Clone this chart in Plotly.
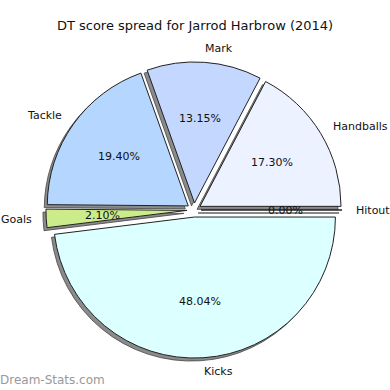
import numpy as np
import plotly.graph_objects as go

labels = ["Handballs", "Mark", "Tackle", "Goals", "Kicks", "Hitout"]
values = [17.30, 13.15, 19.40, 2.10, 48.04, 0.00]
colors = ["#ecf2ff", "#c4d8ff", "#b4d6ff", "#ccec8c", "#dcffff", "#ffffff"]
pulls = [0.05, 0.05, 0.05, 0.05, 0.05, 0.05]

# matplotlib draws counterclockwise from 3 o'clock; plotly equivalent: reversed order, clockwise
L, V, C, P = labels[::-1], values[::-1], colors[::-1], pulls[::-1]

W = H = 390
cx, cy, R = 194, 210, 141
half = R * 1.05
dx = [(cx - half) / W, (cx + half) / W]
dy = [1 - (cy + half) / H, 1 - (cy - half) / H]
sh = 3
sdx = [(cx - half - sh) / W, (cx + half - sh) / W]
sdy = [1 - (cy + half + sh) / H, 1 - (cy - half + sh) / H]

common = dict(labels=L, values=V, sort=False, direction="clockwise",
              rotation=90, pull=P, hoverinfo="skip", showlegend=False, textinfo="none")

fig = go.Figure()
fig.add_trace(go.Pie(**common, domain=dict(x=sdx, y=sdy),
                     marker=dict(colors=["rgba(90,90,90,0.7)"] * 6,
                                 line=dict(color="rgba(70,70,70,0.8)", width=1))))
fig.add_trace(go.Pie(**common, domain=dict(x=dx, y=dy),
                     marker=dict(colors=C, line=dict(color="#222222", width=1))))

# text positions as matplotlib places them (derived from the data)
vals = np.array(values)
frac = vals / vals.sum()
ends = np.cumsum(frac) * 360
starts = ends - frac * 360
mids = np.radians((starts + ends) / 2)
ann = []
font = dict(family="DejaVu Sans", size=11, color="#111111")
for lab, v, th, p in zip(labels, values, mids, pulls):
    c, s = np.cos(th), np.sin(th)
    dpct = (0.6 + p) * R
    ann.append(dict(text=f"{v:.2f}%", x=(cx + dpct * c) / W, y=1 - (cy - dpct * s) / H,
                    xref="paper", yref="paper", xanchor="center", yanchor="middle",
                    showarrow=False, font=font, borderpad=0, borderwidth=0))
    dlab = (1.1 + p) * R
    ann.append(dict(text=lab, x=(cx + dlab * c) / W, y=1 - (cy - dlab * s) / H,
                    xref="paper", yref="paper", xanchor="left" if c > 0 else "right",
                    yanchor="middle", showarrow=False, font=font,
                    borderpad=0, borderwidth=0))
ann.append(dict(text="Dream-Stats.com", x=0, y=0.025, xref="paper", yref="paper",
                xanchor="left", yanchor="middle", showarrow=False,
                borderpad=0, borderwidth=0,
                font=dict(family="DejaVu Sans", size=12, color="#999999")))

fig.update_layout(
    width=W, height=H, margin=dict(l=0, r=0, t=0, b=0),
    paper_bgcolor="white", plot_bgcolor="white",
    title=dict(text="DT score spread for Jarrod Harbrow (2014)", x=0.5, xanchor="center",
               y=1 - 25 / H, yanchor="middle",
               font=dict(family="DejaVu Sans", size=13, color="#111111")),
    annotations=ann,
)
fig.write_html("out.html")
